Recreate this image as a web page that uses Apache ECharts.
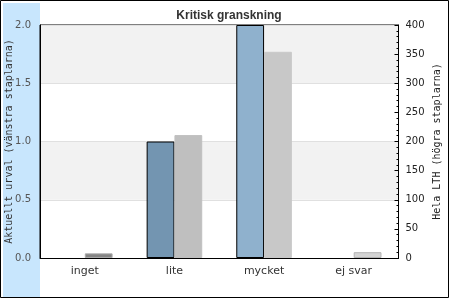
<!DOCTYPE html>
<html>
<head>
<meta charset="utf-8">
<script src="https://cdn.jsdelivr.net/npm/echarts@6/dist/echarts.min.js"></script>
<style>html,body{margin:0;padding:0;background:#fff}#c{width:450px;height:300px}</style>
</head>
<body>
<div id="c"></div>
<script>
var categories = ['inget', 'lite', 'mycket', 'ej svar'];
var leftValues = [0, 1.0, 2.0, 0];
var rightValues = [8, 211, 354, 10];
var leftTicks = [0, 0.5, 1.0, 1.5, 2.0];
var rightTicks = [0, 50, 100, 150, 200, 250, 300, 350, 400];

var leftColors = ['#7395b1', '#7395b1', '#8fb1cd', '#8fb1cd'];
var rightColors = ['#858585', '#bfbfbf', '#c8c8c8', '#d4d4d4'];
var rightBorders = ['#aaaaaa', '#bfbfbf', '#c8c8c8', '#b4b4b4'];

var chart = echarts.init(document.getElementById('c'), null, {renderer: 'canvas'});
chart.setOption({
  animation: false,
  backgroundColor: '#fff',
  title: {
    text: 'Kritisk granskning',
    left: 224, textAlign: 'center', top: 5,
    textStyle: {fontFamily: 'Liberation Sans', fontWeight: 'bold', fontSize: 12, color: '#333'}
  },
  graphic: [
    {type: 'rect', shape: {x: 0.5, y: 0.5, width: 448, height: 297}, style: {fill: '#fff', stroke: '#000', lineWidth: 1}, z: -10, silent: true},
    {type: 'rect', shape: {x: 3, y: 3, width: 37, height: 294}, style: {fill: '#c8e6fd'}, z: -9, silent: true}
  ],
  grid: {left: 40, right: 51.5, top: 25, bottom: 42, show: true, borderColor: '#000', borderWidth: 1, backgroundColor: 'transparent', containLabel: false, outerBoundsMode: 'none'},
  xAxis: {
    type: 'category', data: categories,
    axisLine: {show: true, lineStyle: {color: '#000'}},
    axisTick: {show: false},
    axisLabel: {fontFamily: 'DejaVu Sans', fontSize: 11, color: '#333', margin: 8}
  },
  yAxis: [
    {
      type: 'value', min: leftTicks[0], max: leftTicks[leftTicks.length - 1], interval: 0.5,
      position: 'left',
      name: 'Aktuellt urval (vänstra staplarna)', nameLocation: 'middle', nameGap: 26, nameRotate: 90,
      nameMoveOverlap: false,
      nameTextStyle: {fontFamily: 'DejaVu Sans Mono', fontSize: 10, color: '#333'},
      axisLine: {show: true, lineStyle: {color: '#000'}},
      axisTick: {show: false},
      axisLabel: {fontFamily: 'DejaVu Sans', fontSize: 10, color: '#555', margin: 9, formatter: function (v) { return v.toFixed(1); }},
      splitLine: {show: true, lineStyle: {color: '#e0e0e0', width: 1}},
      splitArea: {show: true, areaStyle: {color: ['#ffffff', '#f2f2f2']}}
    },
    {
      type: 'value', min: rightTicks[0], max: rightTicks[rightTicks.length - 1], interval: 50,
      position: 'right',
      name: 'Hela LTH (högra staplarna)', nameLocation: 'middle', nameGap: 34, nameRotate: 90,
      nameMoveOverlap: false,
      nameTextStyle: {fontFamily: 'DejaVu Sans Mono', fontSize: 10, color: '#222'},
      axisLine: {show: true, lineStyle: {color: '#000'}},
      axisTick: {show: true, inside: true, length: 4, lineStyle: {color: '#000'}},
      minorTick: {show: true, splitNumber: 5, length: 2, lineStyle: {color: '#000'}},
      axisLabel: {fontFamily: 'DejaVu Sans', fontSize: 10, color: '#222', margin: 7},
      splitLine: {show: false}
    }
  ],
  series: [
    {
      type: 'bar', yAxisIndex: 0, barGap: 0, barCategoryGap: '38%',
      data: leftValues.map(function (v, i) {
        return {value: v, itemStyle: {color: leftColors[i], borderColor: '#000', borderWidth: v > 0 ? 1 : 0}};
      })
    },
    {
      type: 'bar', yAxisIndex: 1, barGap: 0, barCategoryGap: '38%',
      data: rightValues.map(function (v, i) {
        return {value: v, itemStyle: {color: rightColors[i], borderColor: rightBorders[i], borderWidth: 1}};
      })
    }
  ]
});
</script>
</body>
</html>
